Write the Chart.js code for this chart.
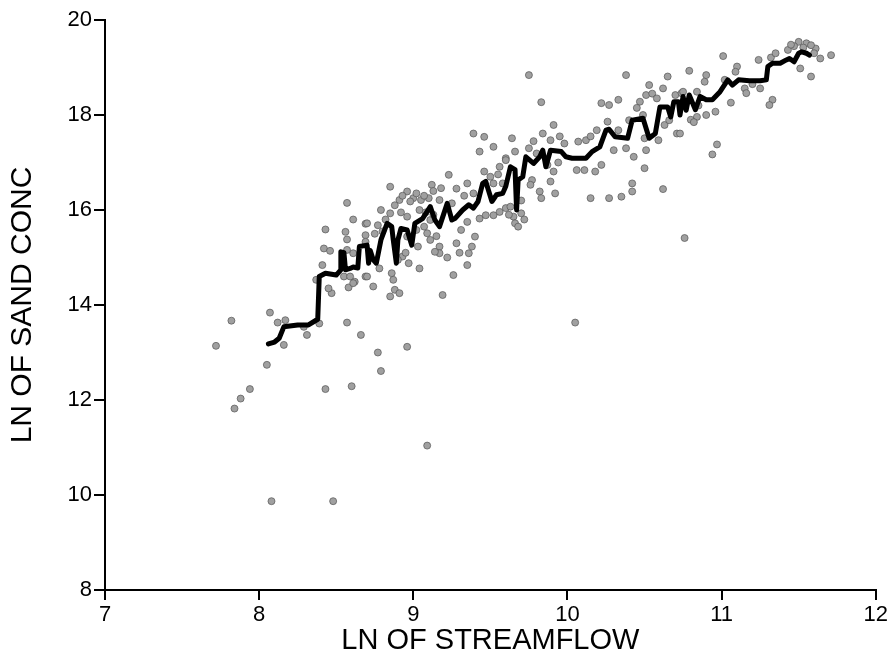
<!DOCTYPE html>
<html lang="en">

<head>
    <meta charset="UTF-8">
    <script src="https://cdn.jsdelivr.net/npm/chart.js"></script>
    <title>Sand concentration vs streamflow</title>
    <style>
        body {
            margin: 0;
            background: #fff;
        }

        .grafico_sty {
            width: 890px;
            height: 665px;
        }
    </style>
</head>

<body>

    <div class="grafico_sty">
        <canvas id="grafico_1" width="890" height="665"></canvas>
    </div>

    <script>

        // observed samples (ln streamflow, ln sand conc)
        const scatterX = [
            7.72, 7.82, 7.84, 7.88, 7.94, 8.05, 8.07, 8.08, 8.12, 8.16, 8.17, 8.29, 8.31, 8.39, 8.43, 8.48, 8.57, 8.60, 8.66, 8.77, 8.79, 8.96, 9.09, 10.05, 10.76,
            8.57, 8.61, 8.69, 8.43, 8.56, 8.57, 8.69, 8.69, 8.42, 8.46, 8.41, 8.37, 8.47, 8.45, 8.55, 8.58, 8.62, 8.69, 8.61, 8.57, 8.59, 8.61,
            8.70, 8.77, 8.79, 8.85, 8.85, 8.91, 8.96, 9.00, 9.05, 9.10, 9.12, 9.18, 9.23, 9.17, 9.25, 9.04, 9.11, 8.96, 9.02, 9.09, 9.11, 9.17, 9.17, 9.14,
            9.03, 8.96, 8.93, 8.97, 9.04, 8.86, 8.87, 8.88, 8.91, 8.85, 8.74, 8.70, 8.78, 9.19, 9.26, 9.35, 9.36, 9.38, 9.40, 9.31, 9.35, 9.43, 9.47, 9.52,
            9.56, 9.60, 9.35, 9.39, 9.46, 9.52, 9.58, 9.60, 9.56, 9.43, 9.52, 9.39, 9.46, 8.90, 8.95, 9.08, 9.13,
            9.75, 9.83, 9.91, 9.64, 9.84, 9.89, 9.98, 10.07, 10.12, 9.66, 9.75, 9.80, 9.60, 9.91, 9.89, 9.77, 9.76, 9.82, 9.83, 9.92, 9.63, 9.65, 9.70, 9.66,
            10.06, 10.11, 10.18, 10.22, 10.15, 10.27, 10.35, 10.42, 10.42, 10.62, 10.30, 10.38, 10.43, 10.51, 10.50, 10.19, 10.26, 10.33, 10.40, 10.49,
            10.50, 10.59, 10.63, 10.66, 10.71, 10.22, 10.27, 10.33, 10.47, 10.51, 10.53, 10.38, 10.65, 10.62, 10.70, 10.74, 9.87, 9.94,
            11.01, 10.79, 10.90, 10.89, 11.10, 11.09, 11.02, 11.24, 11.32, 11.43, 11.50, 11.55, 11.61, 11.64, 11.71, 11.51, 11.58, 11.15, 11.16, 11.25,
            11.33, 11.31, 11.06, 10.96, 10.84, 10.75, 10.84, 10.73, 10.97, 10.94, 11.47, 11.53, 11.58, 10.80, 10.82,
            8.93, 8.98, 9.02, 9.07, 9.13, 8.88, 8.82, 8.80, 8.75, 8.92, 9.07, 9.15, 9.28, 9.30, 9.22, 9.28, 9.33, 9.50, 9.55, 9.70, 9.72, 9.68, 9.62,
            9.78, 9.95, 10.15, 10.55, 10.58, 10.45, 10.85, 10.90, 11.20, 11.35, 11.45, 11.60
        ];
        const scatterY = [
            13.14, 13.67, 11.82, 12.03, 12.23, 12.74, 13.84, 9.87, 13.63, 13.16, 13.68, 13.54, 13.37, 13.61, 12.23, 9.87, 13.63, 12.29, 13.37, 13.00, 12.61, 13.12, 11.04, 13.63, 15.41,
            16.15, 15.80, 15.71, 15.59, 15.54, 15.38, 15.47, 15.33, 15.19, 15.14, 14.84, 14.53, 14.25, 14.35, 14.60, 14.37, 14.49, 14.60, 15.09, 15.16, 14.60, 14.46,
            15.72, 15.68, 16.00, 15.93, 16.49, 16.21, 16.39, 16.25, 16.21, 16.25, 16.53, 16.46, 16.74, 16.21, 16.14, 16.00, 15.79, 15.86, 15.58, 15.51, 15.37, 15.23, 15.09, 15.12,
            15.23, 15.44, 15.02, 14.88, 14.77, 14.67, 14.53, 14.32, 14.25, 14.18, 14.39, 14.60, 14.77, 14.21, 14.63, 14.84, 15.09, 15.23, 15.44, 15.58, 15.75, 15.82, 15.89, 15.89,
            15.96, 16.04, 16.56, 16.35, 16.81, 16.56, 16.56, 17.09, 16.91, 17.23, 17.33, 17.61, 17.54, 14.95, 15.10, 15.95, 15.90,
            18.84, 18.27, 17.79, 17.51, 17.61, 17.47, 17.40, 17.44, 17.47, 17.23, 17.30, 17.19, 17.05, 16.81, 16.60, 16.63, 16.53, 16.39, 16.25, 16.35, 16.07, 15.86, 15.93, 15.72,
            16.84, 16.84, 16.81, 16.95, 16.25, 16.25, 16.28, 16.56, 16.39, 16.44, 17.26, 17.30, 17.12, 17.26, 16.88, 17.68, 17.86, 17.68, 17.89, 18.00,
            17.51, 17.47, 17.79, 17.89, 17.61, 18.25, 18.21, 18.32, 18.28, 18.42, 18.63, 18.84, 18.81, 18.56, 18.42, 18.46, 16.95, 17.00,
            19.24, 18.93, 18.84, 18.70, 19.02, 18.91, 18.74, 19.16, 19.21, 19.37, 19.54, 19.51, 19.40, 19.19, 19.26, 18.98, 18.81, 18.56, 18.46, 18.56,
            18.32, 18.21, 18.26, 18.07, 17.96, 18.49, 18.49, 17.61, 17.38, 17.17, 19.45, 19.42, 19.47, 17.90, 17.85,
            16.30, 16.18, 16.35, 16.30, 16.40, 16.10, 15.80, 15.55, 15.50, 15.95, 15.65, 15.45, 15.30, 15.10, 15.00, 16.45, 16.30, 16.70, 16.75, 16.20, 15.80, 15.65, 15.90,
            17.45, 17.55, 17.55, 18.45, 18.35, 18.15, 18.20, 18.00, 18.65, 19.30, 19.48, 19.30
        ];

        // fitted curve
        const lineX = [
            8.06, 8.10, 8.13, 8.16, 8.25, 8.32, 8.38, 8.39, 8.43, 8.50, 8.53, 8.53, 8.55, 8.56, 8.59, 8.61, 8.64, 8.65, 8.70, 8.71, 8.72, 8.74, 8.76,
            8.79, 8.83, 8.86, 8.87, 8.89, 8.90, 8.92, 8.96, 8.99, 9.01, 9.06, 9.11, 9.14, 9.17, 9.22, 9.25, 9.27, 9.32, 9.36, 9.39, 9.42, 9.45, 9.47,
            9.51, 9.54, 9.58, 9.60, 9.63, 9.66, 9.67, 9.68, 9.71, 9.73, 9.78, 9.82, 9.84, 9.86, 9.89, 9.96, 9.99, 10.03, 10.12, 10.16, 10.21, 10.25,
            10.27, 10.31, 10.39, 10.42, 10.49, 10.53, 10.57, 10.60, 10.65, 10.67, 10.69, 10.72, 10.73, 10.75, 10.77, 10.79, 10.83, 10.86, 10.90, 10.94,
            10.99, 11.04, 11.07, 11.11, 11.18, 11.25, 11.29, 11.30, 11.33, 11.38, 11.42, 11.44, 11.47, 11.50, 11.52, 11.55, 11.57
        ];
        const lineY = [
            13.18, 13.22, 13.30, 13.54, 13.58, 13.58, 13.70, 14.60, 14.67, 14.63, 14.74, 15.12, 15.10, 14.74, 14.77, 14.80, 14.78, 15.23, 15.26, 14.88, 15.15, 14.95, 14.88,
            15.37, 15.72, 15.65, 15.37, 14.88, 15.37, 15.61, 15.58, 15.26, 15.72, 15.82, 16.07, 15.79, 15.65, 16.14, 15.79, 15.82, 16.00, 16.11, 16.04, 16.18, 16.56, 16.60,
            16.18, 16.32, 16.35, 16.50, 16.91, 16.85, 16.00, 16.63, 16.70, 17.12, 16.98, 17.12, 17.26, 16.91, 17.26, 17.23, 17.12, 17.09, 17.09, 17.23, 17.33, 17.68,
            17.70, 17.54, 17.51, 17.89, 17.93, 17.51, 17.61, 18.17, 18.17, 17.96, 18.28, 18.28, 18.00, 18.39, 18.10, 18.42, 18.11, 18.39, 18.32, 18.32,
            18.49, 18.74, 18.63, 18.74, 18.72, 18.72, 18.74, 19.02, 19.09, 19.09, 19.16, 19.19, 19.12, 19.30, 19.33, 19.30, 19.26
        ];

        const xTicks = [7, 8, 9, 10, 11, 12];
        const yTicks = [8, 10, 12, 14, 16, 18, 20];

        const pontos = scatterX.map((v, i) => ({ x: v, y: scatterY[i] }));
        const curva = lineX.map((v, i) => ({ x: v, y: lineY[i] }));

        const fonte = 'Liberation Sans, Arial, Helvetica, sans-serif';

        const ctx = document.getElementById('grafico_1');

        const grafico_1 = new Chart(ctx, {
            type: 'scatter',
            data: {
                datasets: [
                    {
                        type: 'line',
                        data: curva,
                        borderColor: '#000',
                        borderWidth: 5,
                        pointRadius: 0,
                        tension: 0,
                        borderJoinStyle: 'round',
                        borderCapStyle: 'round',
                        fill: false
                    },
                    {
                        data: pontos,
                        pointStyle: 'circle',
                        pointRadius: 3.5,
                        backgroundColor: '#a0a0a0',
                        borderColor: '#555',
                        borderWidth: 0.7
                    }
                ]
            },
            options: {
                responsive: false,
                animation: false,
                devicePixelRatio: 1,
                layout: {
                    padding: { top: 20, right: 14, bottom: 0, left: 0 }
                },
                plugins: {
                    legend: { display: false },
                    tooltip: { enabled: false }
                },
                scales: {
                    x: {
                        type: 'linear',
                        min: 7,
                        max: 12,
                        afterBuildTicks: (s) => { s.ticks = xTicks.map(v => ({ value: v })); },
                        afterFit: (s) => { s.height = 75; },
                        ticks: {
                            color: '#000',
                            padding: 2,
                            font: { family: fonte, size: 22 }
                        },
                        grid: {
                            drawOnChartArea: false,
                            drawTicks: true,
                            tickLength: 10,
                            color: '#000',
                            lineWidth: 2
                        },
                        border: { display: true, color: '#000', width: 2 },
                        title: {
                            display: true,
                            text: 'LN OF STREAMFLOW',
                            color: '#000',
                            padding: { top: 0, bottom: 7 },
                            font: { family: fonte, size: 29 }
                        }
                    },
                    y: {
                        type: 'linear',
                        min: 8,
                        max: 20,
                        afterBuildTicks: (s) => { s.ticks = yTicks.map(v => ({ value: v })); },
                        afterFit: (s) => { s.width = 105; },
                        ticks: {
                            color: '#000',
                            padding: 2,
                            font: { family: fonte, size: 22 }
                        },
                        grid: {
                            drawOnChartArea: false,
                            drawTicks: true,
                            tickLength: 11,
                            color: '#000',
                            lineWidth: 2
                        },
                        border: { display: true, color: '#000', width: 2 },
                        title: {
                            display: true,
                            text: 'LN OF SAND CONC',
                            color: '#000',
                            padding: { top: 5, bottom: 0 },
                            font: { family: fonte, size: 30 }
                        }
                    }
                }
            }
        });

    </script>

</body>

</html>
